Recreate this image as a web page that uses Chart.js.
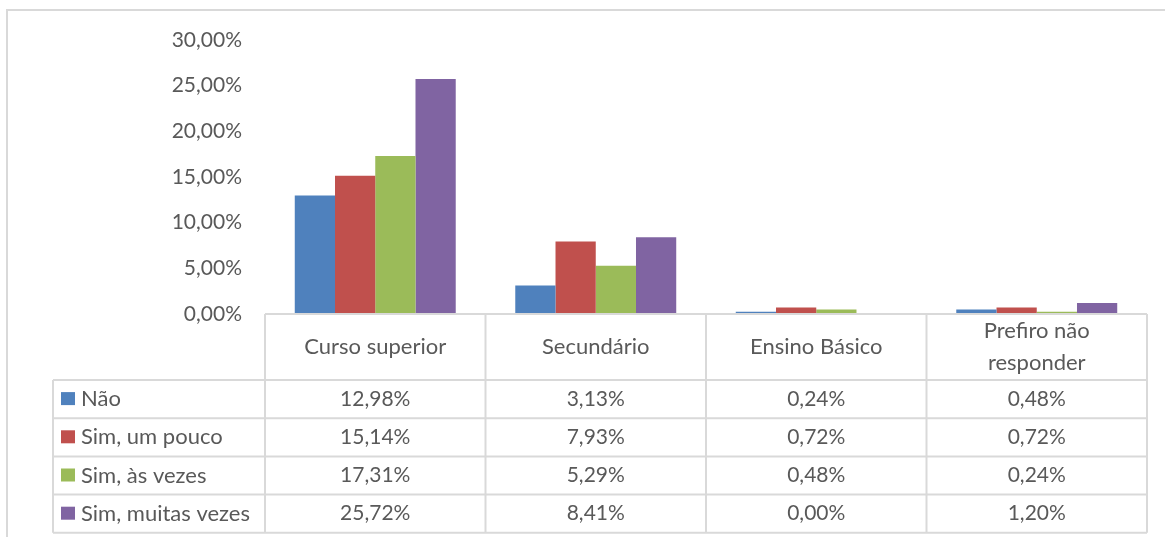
<!DOCTYPE html>
<html>
<head>
<meta charset="utf-8">
<script src="https://cdn.jsdelivr.net/npm/chart.js@4/dist/chart.umd.min.js"></script>
<style>
  body { margin: 0; background: #fff; }
  #wrap { width: 1165px; height: 537px; }
</style>
</head>
<body>
<div id="wrap"><canvas id="myChart" width="1165" height="537"></canvas></div>
<script>
const categorias = ['Curso superior', 'Secundário', 'Ensino Básico', ['Prefiro não', 'responder']];
const nao = [12.98, 3.13, 0.24, 0.48];
const simUmPouco = [15.14, 7.93, 0.72, 0.72];
const simAsVezes = [17.31, 5.29, 0.48, 0.24];
const simMuitasVezes = [25.72, 8.41, 0.00, 1.20];
const series = ['Não', 'Sim, um pouco', 'Sim, às vezes', 'Sim, muitas vezes'];
const cores = ['#4F81BD', '#C0504D', '#9BBB59', '#8064A2'];

const FONT = 'Lato, "Open Sans", sans-serif';
const TEXT = '#595959';
const LINE = '#D9D9D9';

const pct = (v) => v.toFixed(2).replace('.', ',') + '%';

// frame + data table under the plot, columns taken from the x scale
const dataTable = {
    id: 'dataTable',
    afterDraw(chart) {
        const { ctx, chartArea } = chart;
        const x = chart.scales.x;
        const n = chart.data.labels.length;
        const colW = (chartArea.right - chartArea.left) / n;
        const top = chartArea.bottom;
        const headH = 66;
        const rowH = 38.2;
        const legLeft = 53;
        const bottom = top + headH + rowH * series.length;

        ctx.save();
        ctx.strokeStyle = LINE;
        ctx.lineWidth = 2;

        // outer frame
        ctx.beginPath();
        ctx.moveTo(7, chart.height);
        ctx.lineTo(7, 10);
        ctx.lineTo(chart.width, 10);
        ctx.stroke();

        ctx.beginPath();
        // header row
        ctx.moveTo(chartArea.left, top);
        ctx.lineTo(chartArea.right, top);
        for (let i = 0; i <= n; i++) {
            const cx = chartArea.left + colW * i;
            ctx.moveTo(cx, top);
            ctx.lineTo(cx, bottom);
        }
        ctx.moveTo(legLeft, top + headH);
        ctx.lineTo(legLeft, bottom);
        for (let r = 0; r <= series.length; r++) {
            const y = top + headH + rowH * r;
            ctx.moveTo(legLeft, y);
            ctx.lineTo(chartArea.right, y);
        }
        ctx.stroke();

        ctx.fillStyle = TEXT;
        ctx.font = '22px ' + FONT;
        ctx.textAlign = 'center';
        ctx.textBaseline = 'middle';

        chart.data.labels.forEach((lab, i) => {
            const cx = x.getPixelForValue(i);
            const lines = Array.isArray(lab) ? lab : [lab];
            const lh = 32;
            const y0 = top + headH / 2 - (lines.length - 1) * lh / 2;
            lines.forEach((t, k) => ctx.fillText(t, cx, y0 + k * lh));
        });

        chart.data.datasets.forEach((ds, r) => {
            const cy = top + headH + rowH * r + rowH / 2;
            ctx.fillStyle = ds.backgroundColor;
            ctx.fillRect(61, cy - 7, 14, 13);
            ctx.fillStyle = TEXT;
            ctx.font = '22px ' + FONT;
            ctx.textAlign = 'left';
            ctx.fillText(ds.label, 81, cy);
            ctx.textAlign = 'center';
            ctx.font = '21px ' + FONT;
            ds.data.forEach((v, i) => {
                ctx.fillText(pct(v), x.getPixelForValue(i), cy);
            });
        });
        ctx.restore();
    }
};

const ctx = document.getElementById('myChart').getContext('2d');
const myChart = new Chart(ctx, {
    type: 'bar',
    data: {
        labels: categorias,
        datasets: [nao, simUmPouco, simAsVezes, simMuitasVezes].map((d, i) => ({
            label: series[i],
            data: d,
            backgroundColor: cores[i],
            categoryPercentage: 0.73,
            barPercentage: 1.0
        }))
    },
    options: {
        responsive: false,
        animation: false,
        layout: {
            padding: { left: 0, right: 18, top: 40, bottom: 223 }
        },
        plugins: {
            legend: false,
            tooltip: { enabled: false }
        },
        scales: {
            x: {
                display: false
            },
            y: {
                min: 0,
                max: 30,
                ticks: {
                    stepSize: 5,
                    padding: 23,
                    color: TEXT,
                    font: { family: FONT, size: 21 },
                    callback: (v) => pct(v)
                },
                grid: { display: false, drawTicks: false },
                border: { display: false },
                afterFit(scale) {
                    scale.width = 265;
                }
            }
        }
    },
    plugins: [dataTable]
});
</script>
</body>
</html>
